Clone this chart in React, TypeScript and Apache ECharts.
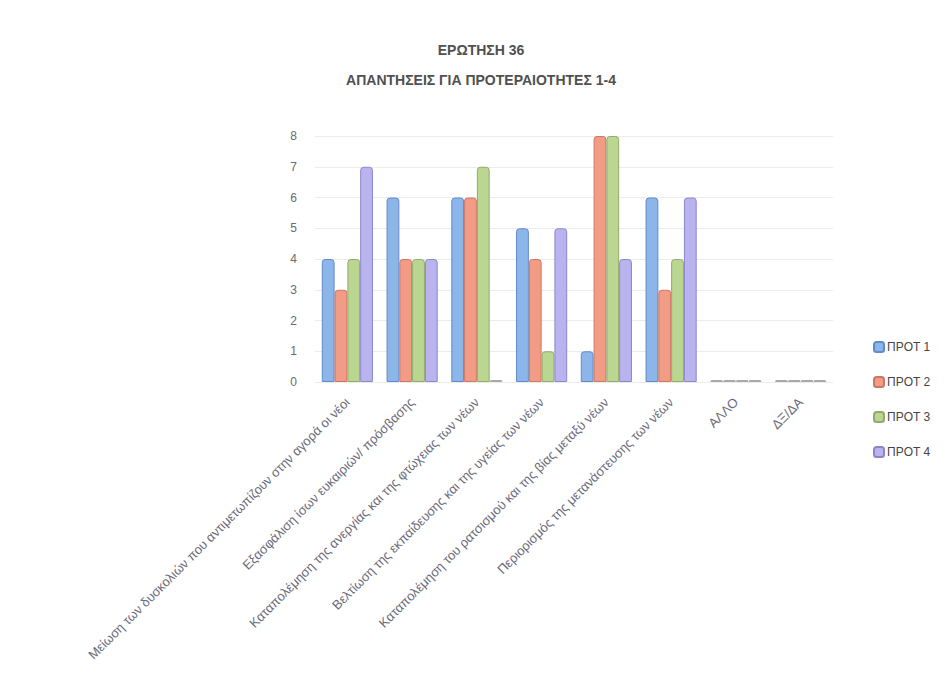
import React, { useEffect, useRef } from "react";
import * as echarts from "echarts";

const titleLines = ["ΕΡΩΤΗΣΗ 36", "ΑΠΑΝΤΗΣΕΙΣ ΓΙΑ ΠΡΟΤΕΡΑΙΟΤΗΤΕΣ 1-4"];

const categories = [
  "Μείωση των δυσκολιών που αντιμετωπίζουν στην αγορά οι νέοι",
  "Εξασφάλιση ίσων ευκαιριών/ πρόσβασης",
  "Καταπολέμηση της ανεργίας και της φτώχειας των νέων",
  "Βελτίωση της εκπαίδευσης και της υγείας των νέων",
  "Καταπολέμηση του ρατσισμού και της βίας μεταξύ νέων",
  "Περιορισμός της μετανάστευσης των νέων",
  "ΑΛΛΟ",
  "ΔΞ/ΔΑ",
];

const seriesNames = ["ΠΡΟΤ 1", "ΠΡΟΤ 2", "ΠΡΟΤ 3", "ΠΡΟΤ 4"];

const prot1 = [4, 6, 6, 5, 1, 6, 0, 0];
const prot2 = [3, 4, 6, 4, 8, 3, 0, 0];
const prot3 = [4, 4, 7, 1, 8, 4, 0, 0];
const prot4 = [7, 4, 0, 5, 4, 6, 0, 0];

const yTicks = [0, 1, 2, 3, 4, 5, 6, 7, 8];

const fills = ["#8cb6ea", "#f29c86", "#bad690", "#b9b3f0"];
const borders = ["#5f8bc8", "#cc7763", "#90ab6c", "#8c86c6"];

export default function App() {
  const ref = useRef<HTMLDivElement>(null);
  useEffect(() => {
    if (!ref.current) return;
    const chart = echarts.init(ref.current, null, { renderer: "svg" });
    const allSeries = [prot1, prot2, prot3, prot4];
    chart.setOption({
      animation: false,
      backgroundColor: "#ffffff",
      title: {
        text: titleLines.join("\n"),
        left: 476,
        textAlign: "center",
        top: 30,
        textStyle: {
          fontFamily: "Liberation Sans",
          fontSize: 14,
          fontWeight: "bold",
          color: "#505050",
          lineHeight: 30,
        },
      },
      legend: {
        orient: "vertical",
        left: 868,
        top: 336,
        itemGap: 23,
        itemWidth: 10,
        itemHeight: 10,
        icon: "roundRect",
        data: seriesNames,
        textStyle: {
          fontFamily: "Liberation Sans",
          fontSize: 12,
          color: "#454545",
          padding: [0, 0, 0, -2],
        },
      },
      grid: { left: 315, right: 114, top: 136, bottom: 314, containLabel: false },
      xAxis: {
        type: "category",
        data: categories,
        axisLine: { show: false },
        axisTick: { show: false },
        axisLabel: {
          rotate: 45,
          interval: 0,
          margin: 18,
          fontFamily: "Liberation Sans",
          fontSize: 13,
          color: "#6a6a7a",
        },
      },
      yAxis: {
        type: "value",
        min: yTicks[0],
        max: yTicks[yTicks.length - 1],
        interval: 1,
        axisLine: { show: false },
        axisTick: { show: false },
        splitLine: { lineStyle: { color: "#ececec", width: 1 } },
        axisLabel: {
          margin: 18,
          fontFamily: "Liberation Sans",
          fontSize: 12,
          color: "#6a6a6a",
        },
      },
      series: allSeries.map((vals, i) => ({
        name: seriesNames[i],
        type: "bar",
        barGap: "0%",
        barCategoryGap: "21%",
        barMinHeight: 2,
        itemStyle: {
          color: fills[i],
          borderColor: borders[i],
          borderWidth: 1,
          borderRadius: [3, 3, 0, 0],
        },
        data: vals.map((v) =>
          v === 0
            ? { value: v, itemStyle: { color: "#a8a8a8", borderColor: "#a8a8a8" } }
            : v
        ),
      })),
    });
    return () => chart.dispose();
  }, []);
  return (
    <div
      ref={ref}
      style={{ position: "absolute", left: 0, top: 0, width: 947, height: 696 }}
    />
  );
}
